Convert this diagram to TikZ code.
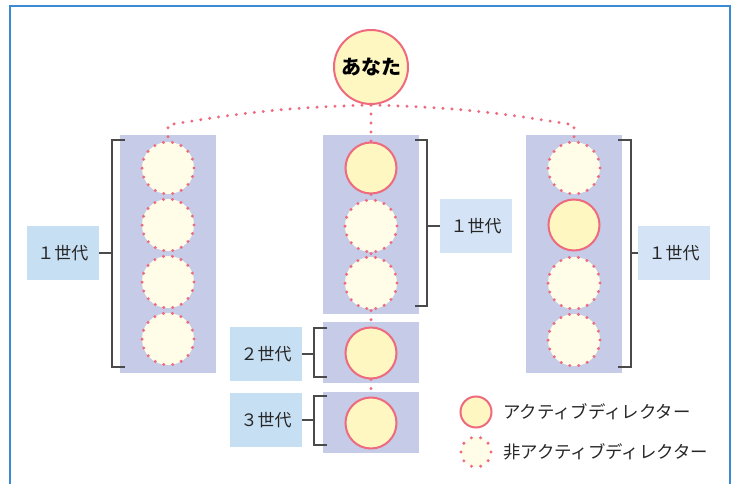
\documentclass[tikz,border=0pt]{standalone}
\usepackage{fontspec}
\setmainfont{Noto Sans CJK JP}
\definecolor{rosa}{HTML}{EE6A7F}
\definecolor{amarillo}{HTML}{FFF7C2}
\definecolor{crema}{HTML}{FFFCE8}
\definecolor{lila}{HTML}{C6CBE7}
\definecolor{celesteA}{HTML}{C7DFF3}
\definecolor{celesteB}{HTML}{D4E3F5}
\definecolor{marco}{HTML}{3A8AD4}
\definecolor{gris}{HTML}{4A4A4A}
\begin{document}
\begin{tikzpicture}[x=1pt, y=-1pt,
    activo/.style={circle, minimum size=51pt, inner sep=0pt, fill=amarillo, draw=rosa, line width=2pt},
    inactivo/.style={circle, minimum size=52pt, inner sep=0pt, fill=crema, draw=rosa, line width=3.3pt, line cap=round, dash pattern=on 0pt off 9.08pt},
    punteado/.style={draw=rosa, line width=3.3pt, line cap=round, dash pattern=on 0pt off 9pt},
    etiqueta/.style={fill=#1, minimum width=72pt, minimum height=54pt, inner sep=0pt, text=black!85, font=\fontsize{17}{20}\selectfont},
    llave/.style={draw=gris, line width=1.3pt},
    leyenda/.style={anchor=west, inner sep=0pt, text=black!85, font=\fontsize{17.4}{20}\selectfont}]
  \useasboundingbox (0,0) rectangle (732,484);
  %%%%%%%%%%%%%%%%%%%%%%%% Marco %%%%%%%%%%%%%%%%%%%%%%%%%%%%%%%%%%%
  \draw[marco, line width=2.6pt] (10,484) -- (10,6) -- (730,6) -- (730,484);
  %%%%%%%%%%%%%%%%%%%%%%%% Cajas %%%%%%%%%%%%%%%%%%%%%%%%%%%%%%%%%%%
  \fill[lila] (120,135) rectangle (216,373); %Columna izquierda
  \fill[lila] (323,135) rectangle (419,314); %Columna central
  \fill[lila] (323,322) rectangle (419,383); %2 generacion
  \fill[lila] (323,392) rectangle (419,453); %3 generacion
  \fill[lila] (526,135) rectangle (622,373); %Columna derecha
  %%%%%%%%%%%%%%%%%%%%%%%% Circulos %%%%%%%%%%%%%%%%%%%%%%%%%%%%%%%%
  \node[circle, minimum size=74pt, inner sep=0pt, fill=amarillo, draw=rosa, line width=2pt,
        font=\fontsize{20}{24}\selectfont\bfseries] (yo) at (371,67) {あなた};
  \node[inactivo] (i1) at (168,168) {};
  \node[inactivo] (i2) at (168,225) {};
  \node[inactivo] (i3) at (168,282) {};
  \node[inactivo] (i4) at (168,339) {};
  \node[activo] (m1) at (371,168) {};
  \node[inactivo] (m2) at (371,226) {};
  \node[inactivo] (m3) at (371,283) {};
  \node[activo] (g2) at (371,353) {};
  \node[activo] (g3) at (371,423) {};
  \node[inactivo] (d1) at (574,168) {};
  \node[activo] (d2) at (574,225) {};
  \node[inactivo] (d3) at (574,283) {};
  \node[inactivo] (d4) at (574,340) {};
  %%%%%%%%%%%%%%%%%%%%%%%% Lineas punteadas %%%%%%%%%%%%%%%%%%%%%%%%
  \coordinate (ci) at (168,125);
  \coordinate (cd) at (574,125);
  \draw[punteado] (yo.south) to[bend right=4] (ci) -- (i1.north);
  \draw[punteado] (yo.south) to[bend left=4] (cd) -- (d1.north);
  \draw[punteado] (yo.south) -- (m1.north);
  \draw[punteado] (m1.south) -- (m2.north);
  \draw[punteado] (m2.south) -- (m3.north);
  \draw[punteado] (m3.south) -- (g2.north);
  \draw[punteado] (g2.south) -- (g3.north);
  %%%%%%%%%%%%%%%%%%%%%%%% Etiquetas %%%%%%%%%%%%%%%%%%%%%%%%%%%%%%%
  \node[etiqueta=celesteA] (e1) at (63,253) {１世代};
  \node[etiqueta=celesteB] (e2) at (476,226) {１世代};
  \node[etiqueta=celesteB] (e3) at (674,253) {１世代};
  \node[etiqueta=celesteA] (e4) at (266,354) {２世代};
  \node[etiqueta=celesteA] (e5) at (266,420) {３世代};
  %%%%%%%%%%%%%%%%%%%%%%%% Llaves %%%%%%%%%%%%%%%%%%%%%%%%%%%%%%%%%%
  \draw[llave] (125,140) -- (112,140) -- (112,367) -- (125,367);
  \draw[llave] (e1.east) -- (112,253);
  \draw[llave] (415,140) -- (427,140) -- (427,306) -- (415,306);
  \draw[llave] (e2.west) -- (427,226);
  \draw[llave] (618,140) -- (631,140) -- (631,367) -- (618,367);
  \draw[llave] (e3.west) -- (631,253);
  \draw[llave] (327,328) -- (314,328) -- (314,377) -- (327,377);
  \draw[llave] (e4.east) -- (314,354);
  \draw[llave] (327,396) -- (314,396) -- (314,445) -- (327,445);
  \draw[llave] (e5.east) -- (314,420);
  %%%%%%%%%%%%%%%%%%%%%%%% Leyenda %%%%%%%%%%%%%%%%%%%%%%%%%%%%%%%%%
  \node[activo, minimum size=31pt] (la) at (476,412) {};
  \node[inactivo, minimum size=30pt, dash pattern=on 0pt off 9.42pt] (li) at (476,452) {};
  \node[leyenda] (ta) at (503,412) {アクティブディレクター};
  \node[leyenda] (ti) at (503,452) {非アクティブディレクター};
\end{tikzpicture}
\end{document}
